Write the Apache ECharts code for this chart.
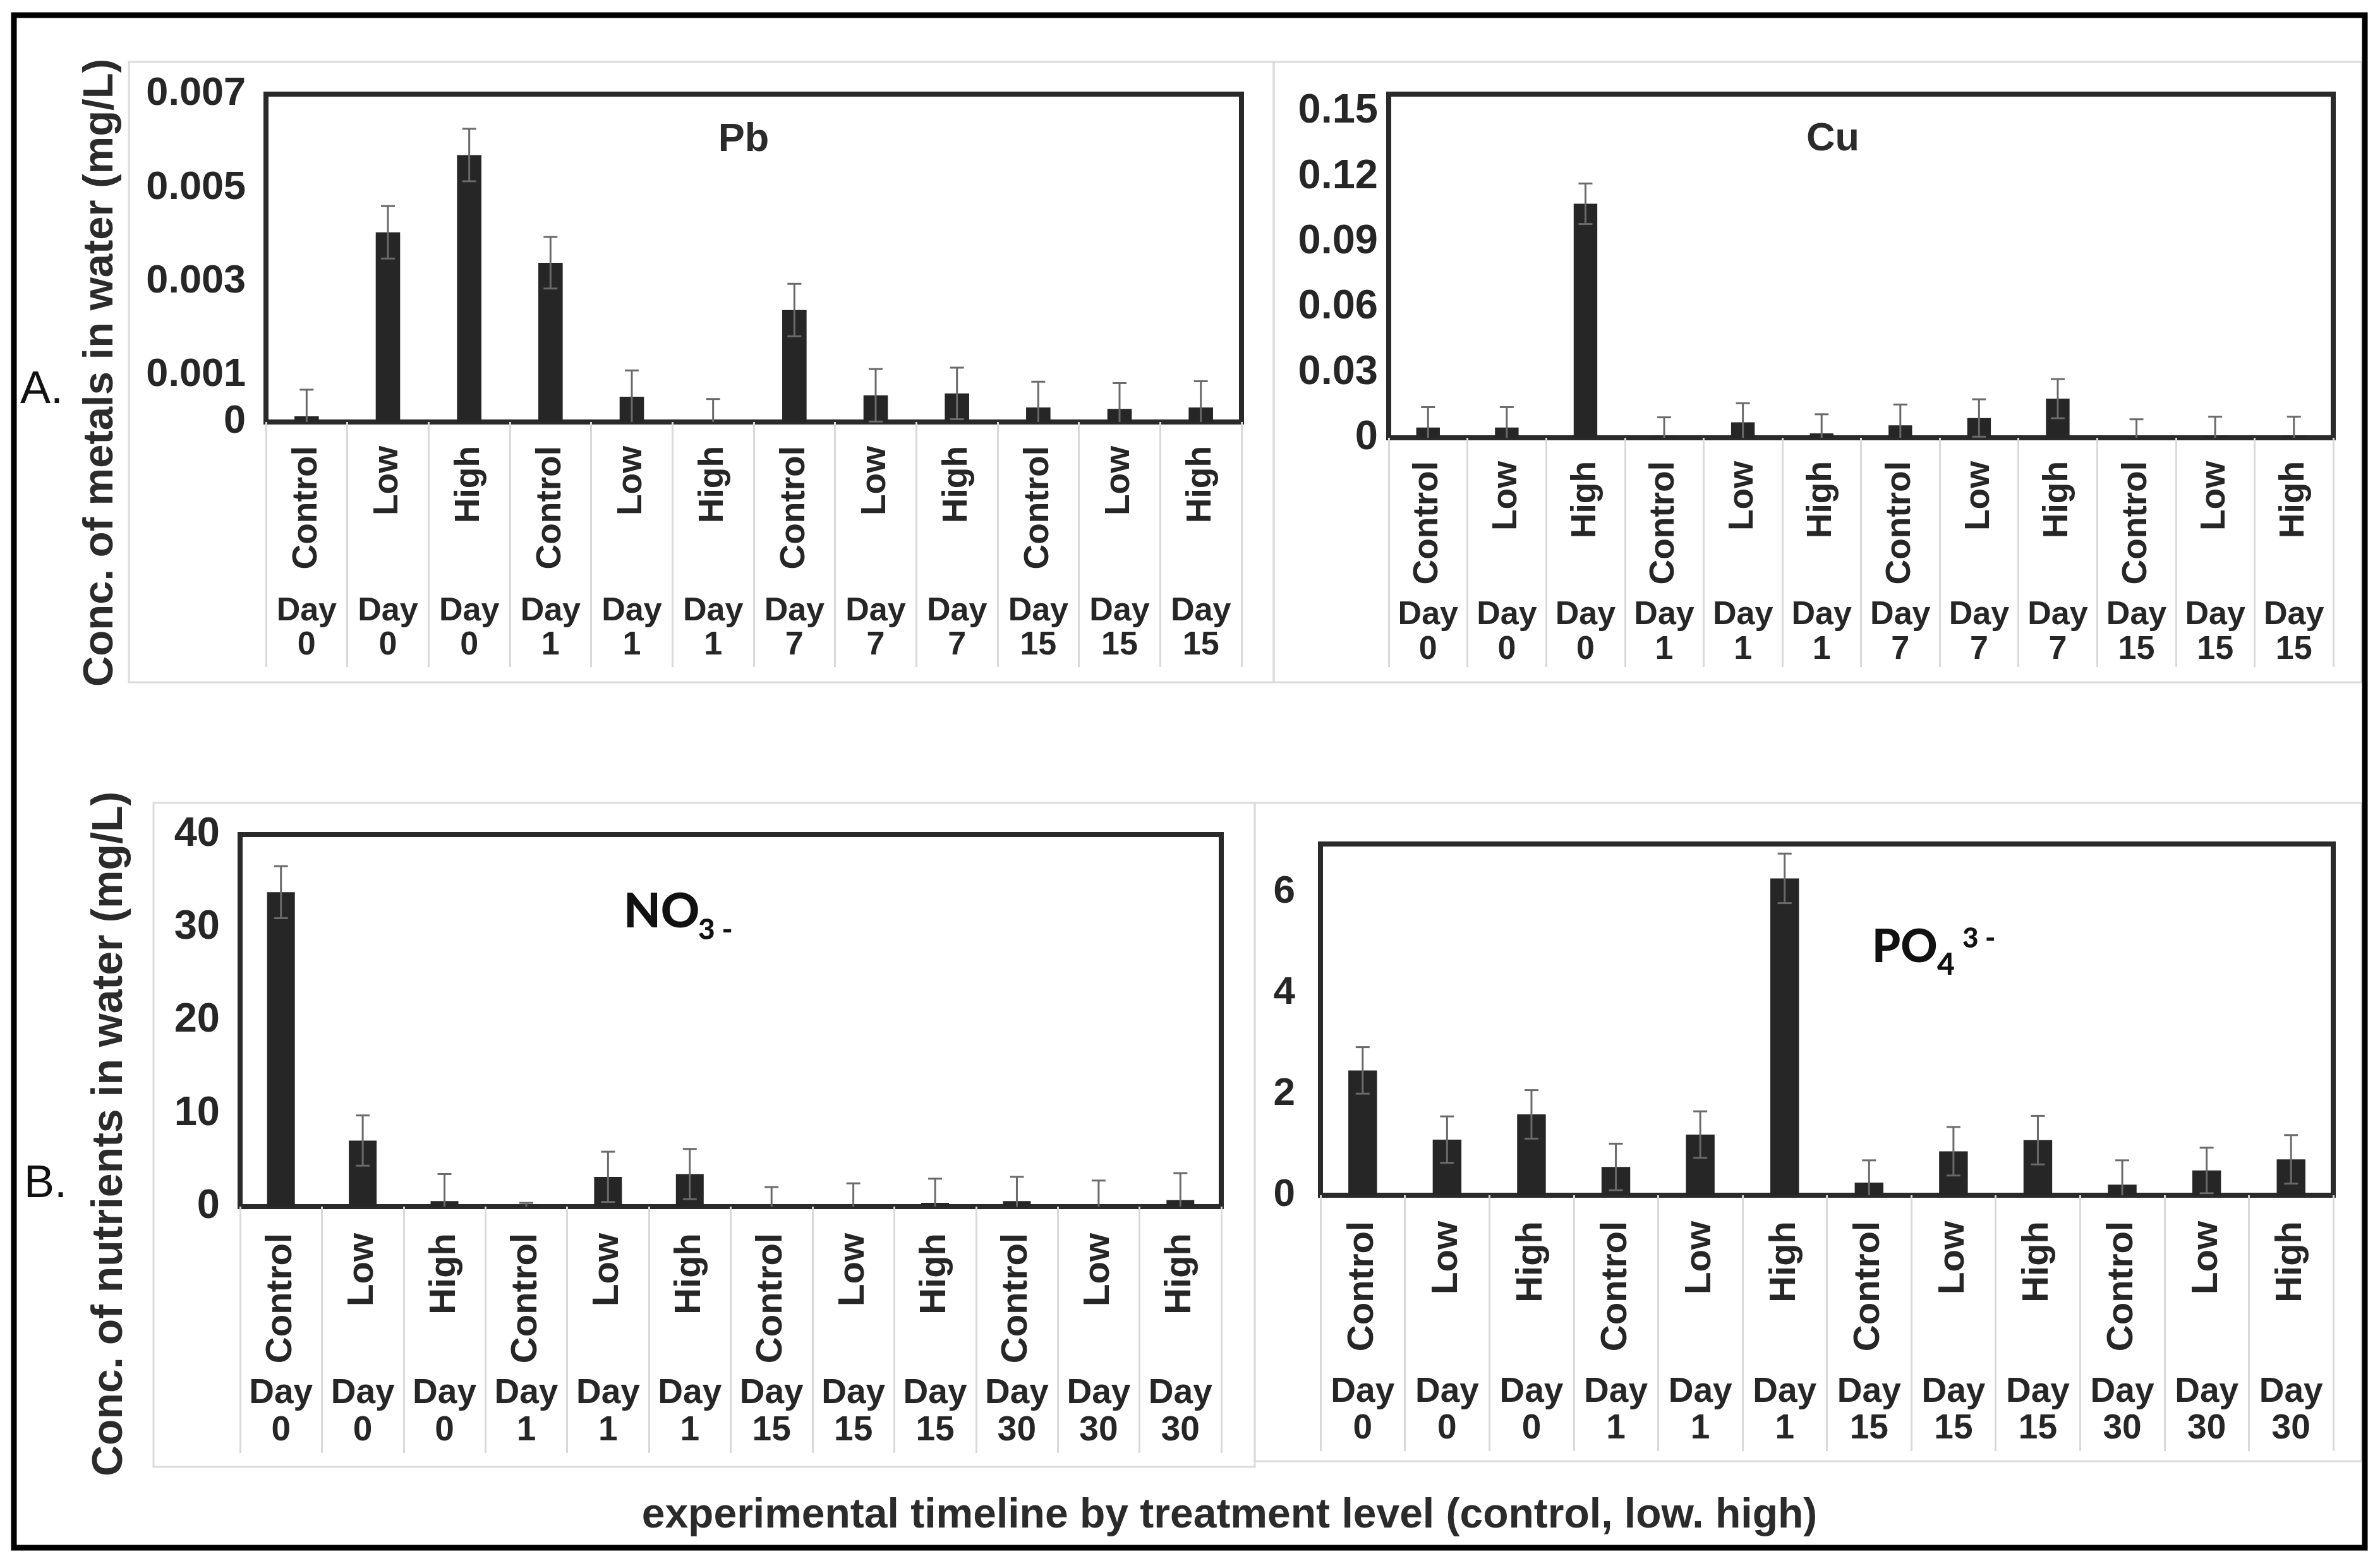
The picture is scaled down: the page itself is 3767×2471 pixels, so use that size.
<!DOCTYPE html>
<html>
<head>
<meta charset="utf-8">
<script src="https://cdn.jsdelivr.net/npm/echarts@6/dist/echarts.min.js"></script>
<style>
  html, body { margin: 0; padding: 0; background: #fff; }
  #main { width: 3767px; height: 2471px; }
</style>
</head>
<body>
<div id="main"></div>
<script>
// categories (treatment level + sampling day)
var metalLevels = ['Control', 'Low', 'High', 'Control', 'Low', 'High', 'Control', 'Low', 'High', 'Control', 'Low', 'High'];
var metalDays = ['Day\n0', 'Day\n0', 'Day\n0', 'Day\n1', 'Day\n1', 'Day\n1', 'Day\n7', 'Day\n7', 'Day\n7', 'Day\n15', 'Day\n15', 'Day\n15'];
var nutrientLevels = ['Control', 'Low', 'High', 'Control', 'Low', 'High', 'Control', 'Low', 'High', 'Control', 'Low', 'High'];
var nutrientDays = ['Day\n0', 'Day\n0', 'Day\n0', 'Day\n1', 'Day\n1', 'Day\n1', 'Day\n15', 'Day\n15', 'Day\n15', 'Day\n30', 'Day\n30', 'Day\n30'];

// means and error bars (mg/L)
var pbValues = [0.00012, 0.00405, 0.0057, 0.0034, 0.00054, 0, 0.00239, 0.00057, 0.00061, 0.00031, 0.00028, 0.00031];
var pbErrors = [0.00057, 0.00056, 0.00056, 0.00055, 0.00056, 0.00049, 0.00056, 0.00056, 0.00055, 0.00055, 0.00055, 0.00056];
var cuValues = [0.0047, 0.0047, 0.1076, 0.0006, 0.0071, 0.002, 0.0057, 0.0091, 0.018, 0.0003, 0.001, 0.001];
var cuErrors = [0.0094, 0.0094, 0.0093, 0.0088, 0.0088, 0.0088, 0.0096, 0.0086, 0.009, 0.0082, 0.0087, 0.0087];
var no3Values = [33.8, 7.1, 0.6, 0.1, 3.2, 3.5, 0, 0, 0.4, 0.6, 0, 0.7];
var no3Errors = [2.8, 2.7, 2.9, 0.3, 2.7, 2.7, 2.1, 2.5, 2.6, 2.6, 2.8, 2.9];
var po4Values = [2.47, 1.10, 1.60, 0.56, 1.20, 6.27, 0.25, 0.87, 1.09, 0.21, 0.49, 0.71];
var po4Errors = [0.46, 0.46, 0.48, 0.46, 0.46, 0.49, 0.44, 0.48, 0.48, 0.48, 0.45, 0.48];

// y tick labels that are printed
var pbTicks = [0, 0.001, 0.003, 0.005, 0.007];
var cuTicks = [0, 0.03, 0.06, 0.09, 0.12, 0.15];
var no3Ticks = [0, 10, 20, 30, 40];
var po4Ticks = [0, 2, 4, 6];

var FONT = '"Liberation Sans", Arial, Helvetica, sans-serif';
var INK = '#262626';

var panels = [
  { grid: { left: 421, top: 149, width: 1544, height: 519 }, max: 0.007, interval: 0.001, ticks: pbTicks, digits: 3,
    levels: metalLevels, days: metalDays, values: pbValues, errors: pbErrors,
    yMargin: 32, ySize: 63, levelMargin: 38, tickLen: 388, dayMargin: 273, dayLH: 54, levelSize: 55, daySize: 52, bar: '30%' },
  { grid: { left: 2198, top: 149, width: 1495, height: 544 }, max: 0.158, interval: 0.03, ticks: cuTicks, digits: 2,
    levels: metalLevels, days: metalDays, values: cuValues, errors: cuErrors,
    yMargin: 17, ySize: 65, levelMargin: 37, tickLen: 363, dayMargin: 253, dayLH: 55, levelSize: 55, daySize: 52, bar: '30%' },
  { grid: { left: 380, top: 1321, width: 1553, height: 589 }, max: 40, interval: 10, ticks: no3Ticks, digits: 0,
    levels: nutrientLevels, days: nutrientDays, values: no3Values, errors: no3Errors,
    yMargin: 32, ySize: 65, levelMargin: 42, tickLen: 390, dayMargin: 266, dayLH: 59, levelSize: 58, daySize: 55, bar: '34%' },
  { grid: { left: 2090, top: 1336, width: 1603, height: 556 }, max: 6.95, interval: 2, ticks: po4Ticks, digits: 0,
    levels: nutrientLevels, days: nutrientDays, values: po4Values, errors: po4Errors,
    yMargin: 40, ySize: 62, levelMargin: 41, tickLen: 405, dayMargin: 283, dayLH: 58, levelSize: 58, daySize: 55, bar: '34%' }
];

function tickFormatter(ticks, digits) {
  return function (v) {
    for (var i = 0; i < ticks.length; i++) {
      if (Math.abs(v - ticks[i]) < 1e-9) {
        return ticks[i] === 0 ? '0' : ticks[i].toFixed(digits);
      }
    }
    return '';
  };
}

function renderError(params, api) {
  var x = api.value(0), v = api.value(1), e = api.value(2);
  var hi = api.coord([x, v + e]);
  var lo = api.coord([x, Math.max(0, v - e)]);
  var cap = 11;
  var style = { stroke: '#6a6a6a', lineWidth: 3 };
  var kids = [
    { type: 'line', shape: { x1: hi[0], y1: hi[1], x2: lo[0], y2: lo[1] }, style: style },
    { type: 'line', shape: { x1: hi[0] - cap, y1: hi[1], x2: hi[0] + cap, y2: hi[1] }, style: style }
  ];
  if (v - e > 0) {
    kids.push({ type: 'line', shape: { x1: lo[0] - cap, y1: lo[1], x2: lo[0] + cap, y2: lo[1] }, style: style });
  }
  return { type: 'group', children: kids };
}

var grids = [], xAxes = [], yAxes = [], series = [];
panels.forEach(function (p, i) {
  grids.push(Object.assign({ show: true, borderColor: '#2a2a2a', borderWidth: 8, backgroundColor: 'transparent' }, p.grid));
  xAxes.push({
    type: 'category', gridIndex: i, data: p.levels, position: 'bottom',
    axisLine: { show: true, lineStyle: { color: '#2a2a2a', width: 8 } },
    axisTick: { show: true, interval: 0, length: p.tickLen, lineStyle: { color: '#d9d9d9', width: 3 } },
    axisLabel: { interval: 0, rotate: 90, margin: p.levelMargin, fontSize: p.levelSize, fontWeight: 'bold', fontFamily: FONT, color: INK }
  });
  xAxes.push({
    type: 'category', gridIndex: i, data: p.days, position: 'bottom',
    axisLine: { show: false }, axisTick: { show: false },
    axisLabel: { interval: 0, margin: p.dayMargin, lineHeight: p.dayLH, fontSize: p.daySize, fontWeight: 'bold', fontFamily: FONT, color: INK }
  });
  yAxes.push({
    type: 'value', gridIndex: i, min: 0, max: p.max, interval: p.interval,
    axisLine: { show: false }, axisTick: { show: false }, splitLine: { show: false },
    axisLabel: { margin: p.yMargin, fontSize: p.ySize, fontWeight: 'bold', fontFamily: FONT, color: INK,
      formatter: tickFormatter(p.ticks, p.digits) }
  });
  series.push({
    type: 'bar', xAxisIndex: 2 * i, yAxisIndex: i, data: p.values, barWidth: p.bar,
    itemStyle: { color: INK }, silent: true
  });
  series.push({
    type: 'custom', xAxisIndex: 2 * i, yAxisIndex: i, z: 5, silent: true,
    data: p.values.map(function (v, k) { return [k, v, p.errors[k]]; }),
    renderItem: renderError
  });
});

function txt(x, y, text, size, opts) {
  opts = opts || {};
  return {
    type: 'text', x: x, y: y, rotation: opts.rotation || 0, silent: true,
    style: {
      text: text, fontSize: size, fontWeight: opts.weight || 'bold', fontFamily: opts.family || FONT,
      fill: opts.fill || '#2b2b2b', align: opts.align || 'center', verticalAlign: 'middle'
    }
  };
}
function box(x, y, w, h, color, lw) {
  return { type: 'rect', silent: true, shape: { x: x, y: y, width: w, height: h },
    style: { fill: 'none', stroke: color, lineWidth: lw } };
}

var TITLE_FONT = 'Lato, "Open Sans", sans-serif';
var graphics = [
  box(204, 98, 1812, 982, '#dcdcdc', 3),
  box(2016, 98, 1722, 982, '#dcdcdc', 3),
  box(243, 1271, 1743, 1051, '#dcdcdc', 3),
  box(1986, 1271, 1752, 1042, '#dcdcdc', 3),
  box(22, 24, 3721, 2426, '#000', 9),
  txt(160, 590, 'Conc. of metals in water (mg/L)', 67, { rotation: Math.PI / 2 }),
  txt(174, 1795, 'Conc. of nutrients in water (mg/L)', 68, { rotation: Math.PI / 2 }),
  txt(32, 618, 'A.', 72, { weight: 'normal', align: 'left', fill: '#111' }),
  txt(38, 1875, 'B.', 72, { weight: 'normal', align: 'left', fill: '#111' }),
  txt(1177, 222, 'Pb', 63),
  txt(2901, 221, 'Cu', 63),
  txt(987, 1443, 'NO', 76, { align: 'left', family: TITLE_FONT, fill: '#111', weight: 900 }),
  txt(1105, 1472, '3 -', 46, { align: 'left', family: TITLE_FONT, fill: '#111', weight: 900 }),
  txt(2963, 1500, 'PO', 72, { align: 'left', family: TITLE_FONT, fill: '#111', weight: 900 }),
  txt(3066, 1528, '4', 48, { align: 'left', family: TITLE_FONT, fill: '#111', weight: 900 }),
  txt(3106, 1486, '3 -', 44, { align: 'left', family: TITLE_FONT, fill: '#111', weight: 900 }),
  txt(1946, 2400, 'experimental timeline by treatment level (control, low. high)', 66)
];

var chart = echarts.init(document.getElementById('main'), null, { renderer: 'canvas' });
chart.setOption({
  animation: false,
  backgroundColor: '#fff',
  textStyle: { fontFamily: FONT },
  grid: grids,
  xAxis: xAxes,
  yAxis: yAxes,
  series: series,
  graphic: { elements: graphics }
});
</script>
</body>
</html>
